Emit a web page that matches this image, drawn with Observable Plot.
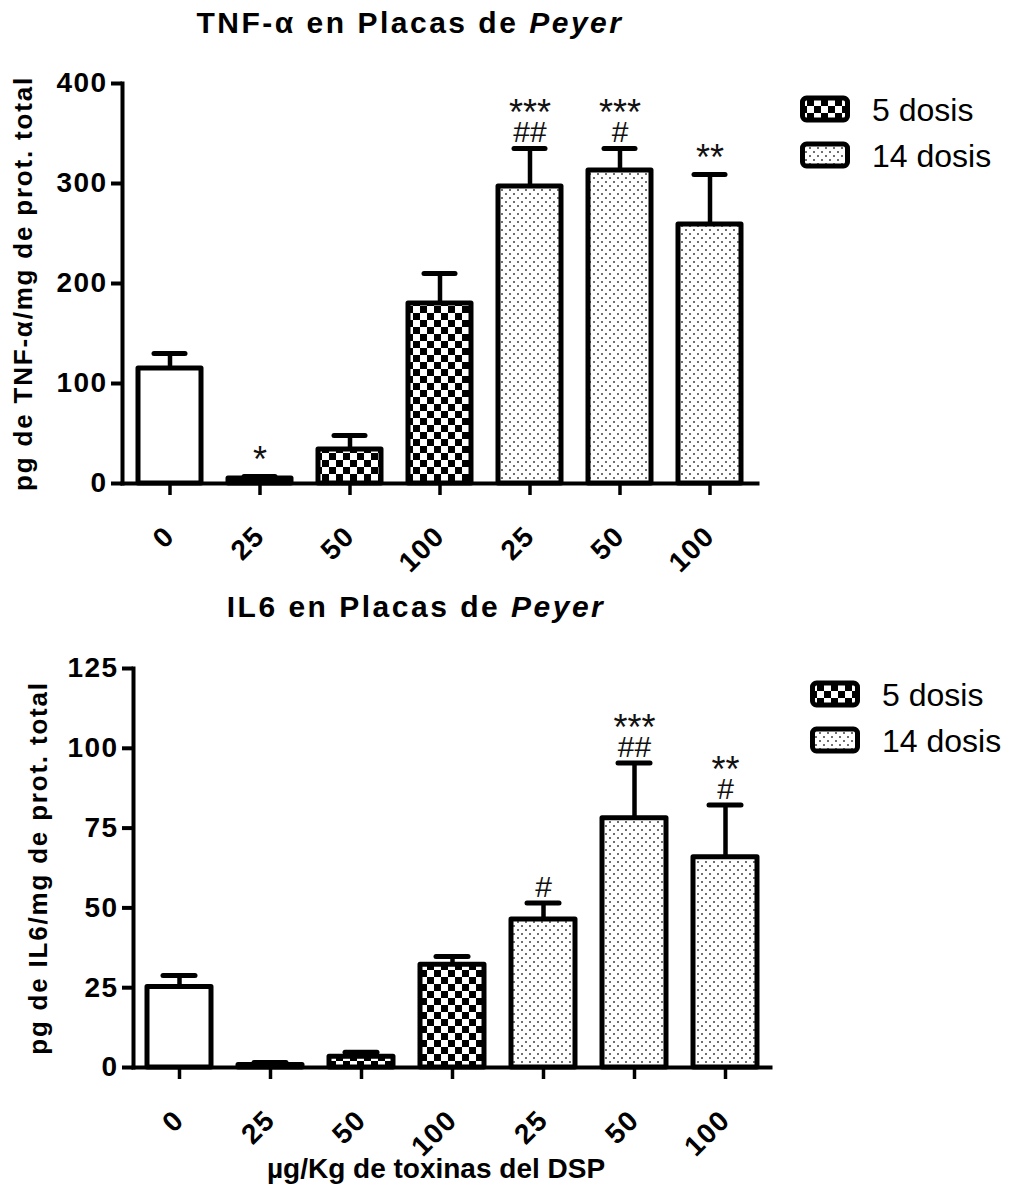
<!DOCTYPE html>
<html>
<head>
<meta charset="utf-8">
<script src="https://cdn.jsdelivr.net/npm/d3@7"></script>
<script src="https://cdn.jsdelivr.net/npm/@observablehq/plot@0.6"></script>
<style>
  html, body { margin: 0; background: #fff; }
  #page { position: relative; width: 1013px; height: 1189px; overflow: hidden;
          font-family: "Liberation Sans", Arial, sans-serif; color: #000; }
  .title { position: absolute; text-align: center; font-weight: bold; font-size: 30px;
           line-height: 34px; letter-spacing: 2.5px; white-space: nowrap; }
  .chart { position: absolute; left: 0; }
  .chart svg { background: transparent !important; overflow: visible; }
  .legend { position: absolute; }
  g[aria-label="y-axis label"] text { font-size: 26px; letter-spacing: 1.8px; }
  g[aria-label="x-axis title"] text { letter-spacing: 1.5px; }
  g[aria-label="y-axis tick label"] text, g[aria-label="x-axis tick label"] text { letter-spacing: 1.4px; }
</style>
</head>
<body>
<div id="page">
  <svg width="0" height="0" style="position:absolute">
    <defs>
      <pattern id="checker" width="14" height="14" patternUnits="userSpaceOnUse">
        <rect width="14" height="14" fill="#fff"/>
        <rect width="7" height="7" fill="#000"/>
        <rect x="7" y="7" width="7" height="7" fill="#000"/>
      </pattern>
      <pattern id="dots" width="8" height="8" patternUnits="userSpaceOnUse">
        <rect width="8" height="8" fill="#fff"/>
        <circle cx="2" cy="2" r="0.95" fill="#333"/>
        <circle cx="6" cy="6" r="0.95" fill="#333"/>
      </pattern>
    </defs>
  </svg>
  <div class="title" style="left:0;width:820px;top:6px">TNF-α en Placas de <i>Peyer</i></div>
  <div class="chart" id="tnf" style="top:40px"></div>
  <div class="legend" id="tnf-legend" style="left:800px;top:92px"></div>
  <div class="title" style="left:6px;width:820px;top:590px">IL6 en Placas de <i>Peyer</i></div>
  <div class="chart" id="il6" style="top:620px"></div>
  <div class="legend" id="il6-legend" style="left:810px;top:677px"></div>
</div>
<script>
// Dose of DSP toxins (µg/Kg) for each bar, and the treatment group it belongs to
const doses = ["0", "25", "50", "100", "25", "50", "100"];
const groups = ["control", "5 dosis", "5 dosis", "5 dosis", "14 dosis", "14 dosis", "14 dosis"];
const legendGroups = ["5 dosis", "14 dosis"];

// TNF-α in Peyer's patches (pg / mg total protein): mean and error
const tnfMean = [115, 5, 34, 180, 297, 313, 259];
const tnfErr = [15, 2, 14, 30, 38, 22, 50];
const tnfStars = ["", "*", "", "", "***", "***", "**"];
const tnfHash = ["", "", "", "", "##", "#", ""];
const tnfTicks = [0, 100, 200, 300, 400];

// IL6 in Peyer's patches (pg / mg total protein): mean and error
const il6Mean = [25.2, 0.8, 3.4, 32.2, 46.4, 78.1, 65.9];
const il6Err = [3.6, 0.8, 1.4, 2.6, 5.1, 17.3, 16.3];
const il6Stars = ["", "", "", "", "", "***", "**"];
const il6Hash = ["", "", "", "", "#", "##", "#"];
const il6Ticks = [0, 25, 50, 75, 100, 125];

const fills = {"control": "white", "5 dosis": "url(#checker)", "14 dosis": "url(#dots)"};

function panel(cfg) {
  const rows = doses.map((dose, i) => ({
    key: String(i),
    dose,
    group: groups[i],
    mean: cfg.mean[i],
    top: cfg.mean[i] + cfg.err[i],
    stars: cfg.stars[i],
    hash: cfg.hash[i]
  }));
  const keys = rows.map(d => d.key);
  const note = {x: "key", y: "top", fontWeight: "normal", fill: "#111"};
  return Plot.plot({
    width: cfg.width,
    height: cfg.height,
    marginLeft: cfg.marginLeft,
    marginRight: cfg.marginRight,
    marginTop: cfg.marginTop,
    marginBottom: cfg.marginBottom,
    style: {
      fontFamily: "'Liberation Sans', Arial, sans-serif",
      fontSize: "28px",
      fontWeight: "bold",
      color: "black",
      background: "transparent",
      overflow: "visible"
    },
    x: {domain: keys, paddingInner: 0.3, paddingOuter: 0.15},
    y: {domain: [0, cfg.ticks[cfg.ticks.length - 1]]},
    marks: [
      // error bars (upper half only)
      Plot.ruleX(rows, {x: "key", y1: "mean", y2: "top", stroke: "black", strokeWidth: 4.5}),
      Plot.tickY(rows, {x: "key", y: "top", stroke: "black", strokeWidth: 5, strokeLinecap: "round", insetLeft: 16, insetRight: 16}),
      // bars, one mark per treatment group so each gets its own fill
      ...Object.keys(fills).map(g => Plot.barY(rows, {
        filter: d => d.group === g,
        x: "key", y: "mean",
        fill: fills[g], stroke: "black", strokeWidth: 5, strokeLinejoin: "round"
      })),
      // significance marks above the error bars: # just above the cap, asterisks above that
      Plot.text(rows, {...note, filter: d => d.hash, text: "hash", fontSize: 30, dy: -16}),
      Plot.text(rows, {...note, filter: d => d.stars && d.hash, text: "stars", fontSize: 36, dy: -35}),
      Plot.text(rows, {...note, filter: d => d.stars && !d.hash, text: "stars", fontSize: 36, dy: -16}),
      Plot.axisY({
        ticks: cfg.ticks, tickSize: 11, tickPadding: 4, strokeWidth: 4,
        label: cfg.yLabel, labelAnchor: "center", labelArrow: "none", labelOffset: cfg.yLabelOffset
      }),
      Plot.axisX({
        tickFormat: k => doses[+k], tickRotate: -45, tickSize: 12, tickPadding: 36, strokeWidth: 3.5,
        label: null
      }),
      // x-axis title below the rotated tick labels
      Plot.text(cfg.xLabel, {
        text: d => d, frameAnchor: "bottom", lineAnchor: "bottom",
        dy: 110, dx: -16, fontSize: 28, ariaLabel: "x-axis title"
      }),
      Plot.frame({anchor: "left", strokeWidth: 4}),
      Plot.frame({anchor: "bottom", strokeWidth: 4})
    ]
  });
}

function legend(container, rowStep) {
  const root = d3.select(container);
  const svg = root.append("svg").attr("width", 213).attr("height", 100).style("overflow", "visible");
  const item = svg.selectAll("g").data(legendGroups).join("g")
    .attr("transform", (d, i) => `translate(0,${i * rowStep})`);
  item.append("rect")
    .attr("x", 2.5).attr("y", 6).attr("width", 45).attr("height", 22).attr("rx", 4)
    .attr("fill", d => fills[d]).attr("stroke", "black").attr("stroke-width", 5);
  item.append("text")
    .attr("x", 72).attr("y", 29)
    .attr("font-family", "'Liberation Sans', Arial, sans-serif")
    .attr("font-size", 32)
    .text(d => d);
}

document.getElementById("tnf").append(panel({
  mean: tnfMean, err: tnfErr, stars: tnfStars, hash: tnfHash, ticks: tnfTicks,
  width: 800, height: 525, marginLeft: 122, marginRight: 43, marginTop: 43, marginBottom: 82,
  yLabel: "pg de TNF-α/mg de prot. total", yLabelOffset: 109, xLabel: []
}));
legend("#tnf-legend", 46);

document.getElementById("il6").append(panel({
  mean: il6Mean, err: il6Err, stars: il6Stars, hash: il6Hash, ticks: il6Ticks,
  width: 800, height: 569, marginLeft: 133, marginRight: 30, marginTop: 48, marginBottom: 122,
  yLabel: "pg de IL6/mg de prot. total", yLabelOffset: 105, xLabel: ["µg/Kg de toxinas del DSP"]
}));
legend("#il6-legend", 46);
</script>
</body>
</html>
